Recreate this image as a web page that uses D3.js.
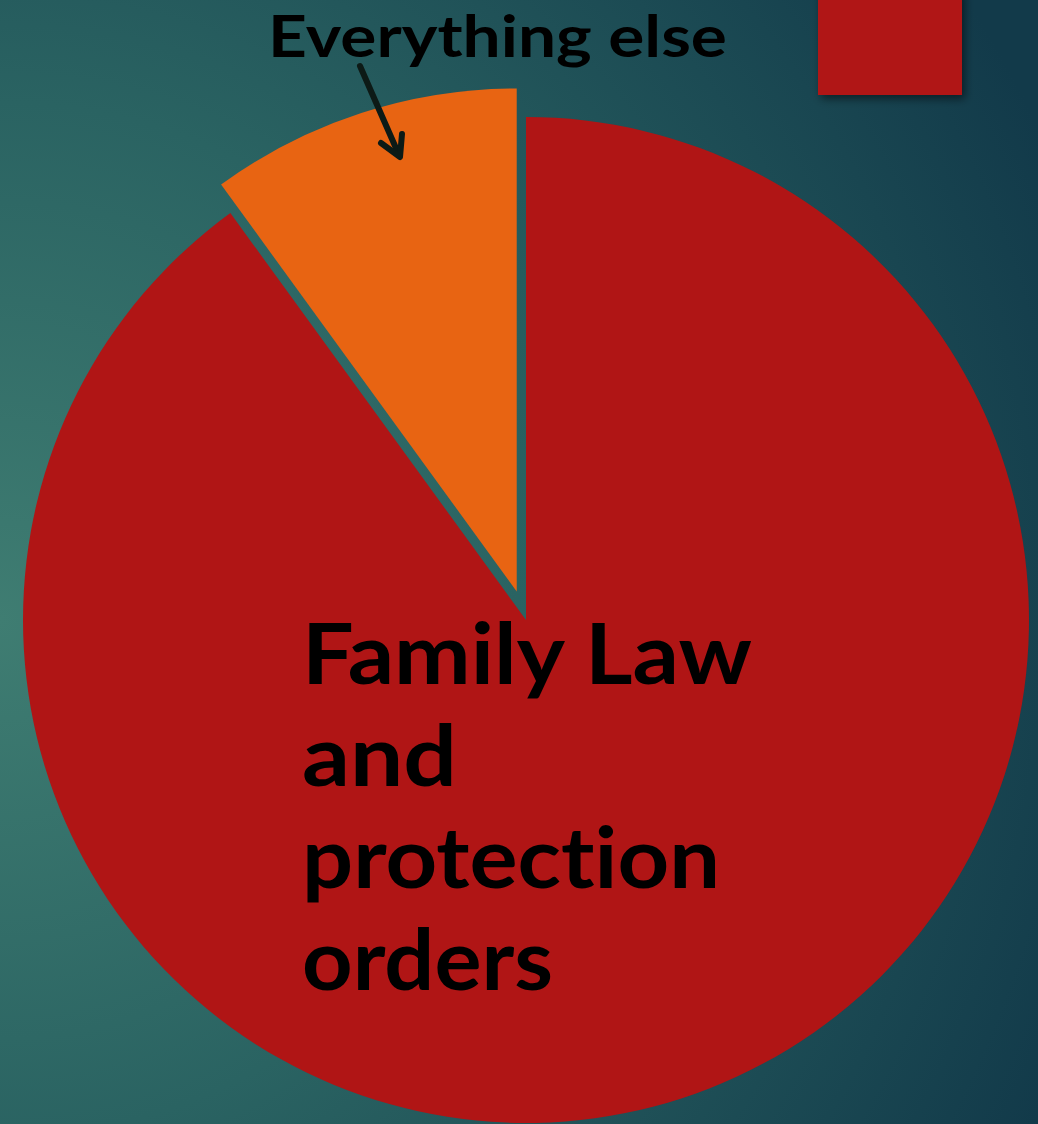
<!DOCTYPE html>
<html><head><meta charset="utf-8">
<script src="https://cdn.jsdelivr.net/npm/d3@7"></script>
<style>html,body{margin:0;padding:0;overflow:hidden;background:#1e5058} text{font-variant-ligatures:none;font-feature-settings:"liga" 0}</style>
</head><body>
<script>
const categories = ["Family Law and protection orders", "Everything else"];
const values = [90, 10];
const colors = ["#b01515", "#e86412"];
const explode = [0, 1];
const familyLines = ["Family Law", "and", "protection", "orders"];
const annotation = "Everything else";

const W = 1038, H = 1124;
const svg = d3.select("body").append("svg").attr("width", W).attr("height", H);
const defs = svg.append("defs");
const rg = defs.append("radialGradient").attr("id","bg").attr("gradientUnits","userSpaceOnUse")
  .attr("cx",0).attr("cy",620).attr("r",1150);
rg.append("stop").attr("offset","0").attr("stop-color","#3f7d72");
rg.append("stop").attr("offset","0.45").attr("stop-color","#2a6362");
rg.append("stop").attr("offset","1").attr("stop-color","#123a4a");
svg.append("rect").attr("width",W).attr("height",H).attr("fill","url(#bg)");

const sh = defs.append("filter").attr("id","shadow").attr("x","-20%").attr("y","-20%").attr("width","150%").attr("height","150%");
sh.append("feDropShadow").attr("dx",3).attr("dy",4).attr("stdDeviation",4).attr("flood-color","#000").attr("flood-opacity",0.5);

// legend swatch (partially visible)
svg.append("rect").attr("x",818).attr("y",-10).attr("width",144).attr("height",105)
  .attr("fill",colors[0]).attr("filter","url(#shadow)");

const cx = 526, cy = 620, r = 503;
const pie = d3.pie().sort(null).startAngle(0).endAngle(2*Math.PI);
const arcs = pie(values);
const arc = d3.arc().innerRadius(0).outerRadius(r);
const g = svg.append("g").attr("transform",`translate(${cx},${cy})`);
g.selectAll("path").data(arcs).join("path")
  .attr("d", arc)
  .attr("fill",(d,i)=>colors[i])
  .attr("transform",(d,i)=>{
    const a = (d.startAngle + d.endAngle)/2;
    const off = explode[i]*30;
    return `translate(${Math.sin(a)*off},${-Math.cos(a)*off})`;
  });

const font = "Lato, 'Open Sans', sans-serif";
// annotation
svg.append("text").attr("x",268).attr("y",57).attr("font-family",font).attr("font-weight",700)
  .attr("font-size",58).attr("fill","#000").attr("textLength",459).attr("lengthAdjust","spacingAndGlyphs")
  .text(annotation);

// arrow
const ag = svg.append("g").attr("stroke","#0d1a16").attr("stroke-width",6).attr("fill","none").attr("stroke-linecap","round").attr("stroke-linejoin","round");
ag.append("line").attr("x1",360).attr("y1",66).attr("x2",399).attr("y2",155);
ag.append("polyline").attr("points","381,143 400,157 402,134");

// family label
const widths = [450,155,418,251];
const baselines = [684,786,888,990];
svg.append("g").selectAll("text").data(familyLines).join("text")
  .attr("x",302).attr("y",(d,i)=>baselines[i])
  .attr("font-family",font).attr("font-weight",700).attr("font-size",84).attr("fill","#000")
  .attr("textLength",(d,i)=>widths[i]).attr("lengthAdjust","spacingAndGlyphs")
  .text(d=>d);
</script>
</body></html>
